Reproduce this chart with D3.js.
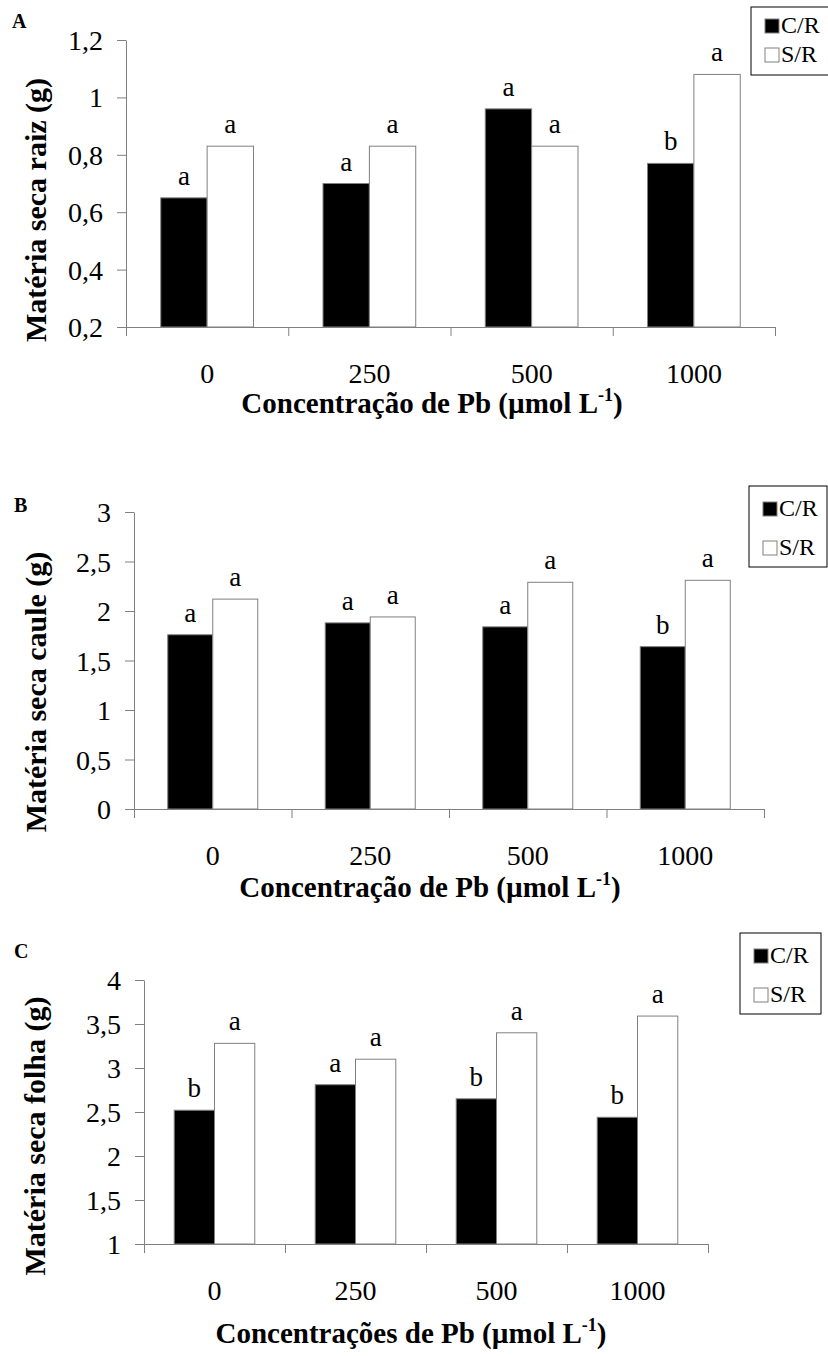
<!DOCTYPE html>
<html>
<head>
<meta charset="utf-8">
<script src="https://cdn.jsdelivr.net/npm/d3@7"></script>
<style>
  body { margin: 0; background: #fff; }
  svg { display: block; font-family: "Liberation Serif", "Times New Roman", serif; }
</style>
</head>
<body>
<div id="chart"></div>
<script>
// doses de Pb e tratamentos
const doses = ["0", "250", "500", "1000"]
const series = ["C/R", "S/R"]

// A - raiz
const raizCR = [0.65, 0.70, 0.96, 0.77]
const raizSR = [0.83, 0.83, 0.83, 1.08]
const raizLetrasCR = ["a", "a", "a", "b"]
const raizLetrasSR = ["a", "a", "a", "a"]
const raizTicks = [0.2, 0.4, 0.6, 0.8, 1, 1.2]

// B - caule
const cauleCR = [1.76, 1.88, 1.84, 1.64]
const cauleSR = [2.12, 1.94, 2.29, 2.31]
const cauleLetrasCR = ["a", "a", "a", "b"]
const cauleLetrasSR = ["a", "a", "a", "a"]
const cauleTicks = [0, 0.5, 1, 1.5, 2, 2.5, 3]

// C - folha
const folhaCR = [2.52, 2.81, 2.65, 2.44]
const folhaSR = [3.28, 3.10, 3.40, 3.59]
const folhaLetrasCR = ["b", "a", "b", "b"]
const folhaLetrasSR = ["a", "a", "a", "a"]
const folhaTicks = [1, 1.5, 2, 2.5, 3, 3.5, 4]

const axisColor = "#808080"
const fmt = d => String(d).replace(".", ",")

const panels = [
  {
    tag: "A", values: [raizCR, raizSR], letters: [raizLetrasCR, raizLetrasSR], ticks: raizTicks,
    yTitle: "Matéria seca raiz (g)", xTitle: "Concentração de Pb (µmol L",
    x0: 126, x1: 775, yTop: 40, yBottom: 327,
    tagPos: [12, 28], yTitlePos: [46, 210], xTitlePos: [432, 413],
    legend: { x: 751, y: 7, w: 80, h: 68, rows: [33, 62] }
  },
  {
    tag: "B", values: [cauleCR, cauleSR], letters: [cauleLetrasCR, cauleLetrasSR], ticks: cauleTicks,
    yTitle: "Matéria seca caule (g)", xTitle: "Concentração de Pb (µmol L",
    x0: 134, x1: 764, yTop: 512, yBottom: 809,
    tagPos: [14, 512], yTitlePos: [46, 692], xTitlePos: [430, 897],
    legend: { x: 749, y: 486, w: 78, h: 81, rows: [516, 555] }
  },
  {
    tag: "C", values: [folhaCR, folhaSR], letters: [folhaLetrasCR, folhaLetrasSR], ticks: folhaTicks,
    yTitle: "Matéria seca folha (g)", xTitle: "Concentrações de Pb (µmol L",
    x0: 144, x1: 708, yTop: 980, yBottom: 1244,
    tagPos: [14, 958], yTitlePos: [45, 1136], xTitlePos: [411, 1343],
    legend: { x: 740, y: 933, w: 81, h: 81, rows: [963, 1002] }
  }
]

const svg = d3.select("#chart")
  .append("svg")
  .attr("width", 828)
  .attr("height", 1356)

panels.forEach(p => {
  const g = svg.append("g")
  const ticks = p.ticks

  const y = d3.scaleLinear()
    .domain([ticks[0], ticks[ticks.length - 1]])
    .range([p.yBottom, p.yTop])

  const x = d3.scaleBand()
    .domain(doses)
    .range([p.x0, p.x1])

  const xs = d3.scaleBand()
    .domain(series)
    .range([0, x.bandwidth()])
    .paddingInner(0)
    .paddingOuter(0.75)

  // eixo y
  const yAxis = g.append("g")
    .attr("transform", `translate(${p.x0},0)`)
    .call(d3.axisLeft(y).tickValues(ticks).tickFormat(fmt).tickSize(9).tickSizeOuter(0).tickPadding(14))
  yAxis.select(".domain").attr("stroke", axisColor)
  yAxis.selectAll(".tick line").attr("stroke", axisColor)
  yAxis.selectAll(".tick text")
    .attr("font-size", 28)
    .attr("font-family", "Liberation Serif")
    .attr("fill", "#000")
    .attr("dy", "0.34em")

  // barras
  series.forEach((s, si) => {
    g.selectAll(null)
      .data(p.values[si])
      .enter()
      .append("rect")
      .attr("x", (d, i) => x(doses[i]) + xs(s))
      .attr("y", d => y(d))
      .attr("width", xs.bandwidth())
      .attr("height", d => p.yBottom - y(d))
      .attr("fill", si === 0 ? "#000" : "#fff")
      .attr("stroke", axisColor)
      .attr("stroke-width", 1)

    g.selectAll(null)
      .data(p.values[si])
      .enter()
      .append("text")
      .attr("x", (d, i) => x(doses[i]) + xs(s) + xs.bandwidth() / 2)
      .attr("y", d => y(d) - 13)
      .attr("text-anchor", "middle")
      .attr("font-size", 27)
      .text((d, i) => p.letters[si][i])
  })

  // eixo x: marcas nos limites das categorias
  const xEdge = d3.scaleLinear().domain([0, doses.length]).range([p.x0, p.x1])
  const xAxis = g.append("g")
    .attr("transform", `translate(0,${p.yBottom})`)
    .call(d3.axisBottom(xEdge).tickValues(d3.range(doses.length + 1)).tickFormat("").tickSize(9).tickSizeOuter(0))
  xAxis.select(".domain").attr("stroke", axisColor)
  xAxis.selectAll(".tick line").attr("stroke", axisColor)

  g.selectAll(null)
    .data(doses)
    .enter()
    .append("text")
    .attr("x", d => x(d) + x.bandwidth() / 2)
    .attr("y", p.yBottom + 56)
    .attr("text-anchor", "middle")
    .attr("font-size", 28)
    .text(d => d)

  // títulos
  const xt = g.append("text")
    .attr("x", p.xTitlePos[0])
    .attr("y", p.xTitlePos[1])
    .attr("text-anchor", "middle")
    .attr("font-size", 29)
    .attr("font-weight", "bold")
  xt.append("tspan").text(p.xTitle)
  xt.append("tspan").attr("dy", -12).attr("font-size", 18).text("-1")
  xt.append("tspan").attr("dy", 12).text(")")

  g.append("text")
    .attr("transform", `translate(${p.yTitlePos[0]},${p.yTitlePos[1]}) rotate(-90)`)
    .attr("text-anchor", "middle")
    .attr("font-size", 30)
    .attr("font-weight", "bold")
    .text(p.yTitle)

  g.append("text")
    .attr("x", p.tagPos[0])
    .attr("y", p.tagPos[1])
    .attr("font-size", 20)
    .attr("font-weight", "bold")
    .text(p.tag)

  // legenda
  const lg = g.append("g").attr("transform", `translate(${p.legend.x},${p.legend.y})`)
  lg.append("rect")
    .attr("width", p.legend.w)
    .attr("height", p.legend.h)
    .attr("fill", "#fff")
    .attr("stroke", "#000")
    .attr("stroke-width", 1)
  series.forEach((s, si) => {
    const base = p.legend.rows[si] - p.legend.y
    lg.append("rect")
      .attr("x", 14)
      .attr("y", base - 14)
      .attr("width", 14)
      .attr("height", 14)
      .attr("fill", si === 0 ? "#000" : "#fff")
      .attr("stroke", axisColor)
    lg.append("text")
      .attr("x", 30)
      .attr("y", base)
      .attr("font-size", 24)
      .text(s)
  })
})
</script>
</body>
</html>
